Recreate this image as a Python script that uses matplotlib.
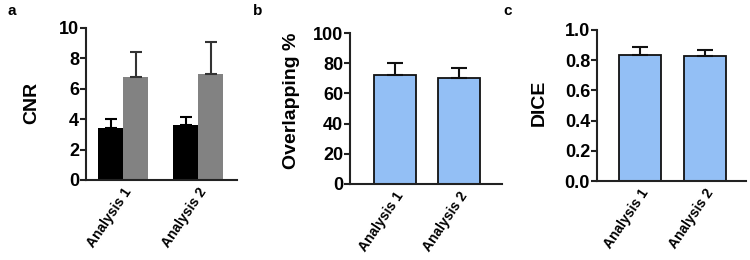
import matplotlib
matplotlib.use("Agg")
import matplotlib.pyplot as plt
import numpy as np

plt.rcParams['font.family'] = ['Liberation Sans', 'DejaVu Sans']

categories = ["Analysis 1", "Analysis 2"]
cnr_black = [3.4, 3.65]
cnr_black_err = [0.6, 0.5]
cnr_grey = [6.8, 7.0]
cnr_grey_err = [1.6, 2.05]
overlap = [72.0, 70.3]
overlap_err = [8.0, 6.2]
dice = [0.835, 0.825]
dice_err = [0.05, 0.04]

W, H = 750, 260
fig = plt.figure(figsize=(W / 100, H / 100), dpi=100)


def px_axes(left, right, top, bottom):
    return fig.add_axes([left / W, 1 - bottom / H, (right - left) / W, (bottom - top) / H])


def style(ax, ylabel, yticks, ylim, ticklabels_fmt, label_x, label_y):
    for s in ['top', 'right']:
        ax.spines[s].set_visible(False)
    for s in ['left', 'bottom']:
        ax.spines[s].set_linewidth(1.5)
        ax.spines[s].set_color('#222222')
    ax.set_ylim(*ylim)
    ax.set_yticks(yticks)
    ax.set_yticklabels([ticklabels_fmt(v) for v in yticks], fontsize=13, fontweight='bold')
    ax.tick_params(axis='y', length=4, width=1.5, pad=1, color='#222222')
    ax.tick_params(axis='x', length=0, pad=4)
    ax.set_ylabel(ylabel, fontsize=14, fontweight='bold')
    ax.yaxis.set_label_coords(label_x, label_y)
    ax.set_xticks(np.arange(len(categories)))
    ax.set_xticklabels(categories, rotation=56, ha='right', rotation_mode='anchor',
                       fontsize=10, fontweight='bold')


x = np.arange(len(categories))

# Panel a
axa = px_axes(86, 237, 28, 180)
bw = 25 / 75
axa.bar(x - bw / 2, cnr_black, bw, color='black', edgecolor='black', linewidth=0,
        yerr=[np.zeros(2), cnr_black_err], error_kw=dict(ecolor='black', elinewidth=1.5, capsize=4.5, capthick=1.5))
axa.bar(x + bw / 2, cnr_grey, bw, color='#828282', edgecolor='#828282', linewidth=0,
        yerr=[np.zeros(2), cnr_grey_err], error_kw=dict(ecolor='#333333', elinewidth=1.5, capsize=4.5, capthick=1.5))
axa.set_xlim((86 - 123) / 75, (237 - 123) / 75)
style(axa, "CNR", [0, 2, 4, 6, 8, 10], (0, 10), lambda v: f"{v:d}", -0.305, 0.51)

# Panel b
axb = px_axes(350, 502, 33, 184)
bw_b = 42 / 64
axb.bar(x, overlap, bw_b, color='#93BFF5', edgecolor='#111111', linewidth=1.3,
        yerr=[np.zeros(2), overlap_err], error_kw=dict(ecolor='#111111', elinewidth=1.5, capsize=6, capthick=1.5))
axb.set_xlim((350 - 395) / 64, (502 - 395) / 64)
style(axb, "Overlapping %", [0, 20, 40, 60, 80, 100], (0, 100), lambda v: f"{v:d}", -0.33, 0.55)

# Panel c
axc = px_axes(597, 746, 30, 181)
bw_c = 42 / 65
axc.bar(x, dice, bw_c, color='#93BFF5', edgecolor='#111111', linewidth=1.3,
        yerr=[np.zeros(2), dice_err], error_kw=dict(ecolor='#111111', elinewidth=1.5, capsize=6, capthick=1.5))
axc.set_xlim((597 - 640) / 65, (746 - 640) / 65)
style(axc, "DICE", [0.0, 0.2, 0.4, 0.6, 0.8, 1.0], (0, 1.0), lambda v: f"{v:.1f}", -0.33, 0.52)

for lbl, xp in [("a", 8), ("b", 253), ("c", 503)]:
    fig.text(xp / W, 1 - 11 / H, lbl, fontsize=11, fontweight='bold', ha='left', va='center')

fig.savefig("out.png", dpi=100, facecolor='white')
